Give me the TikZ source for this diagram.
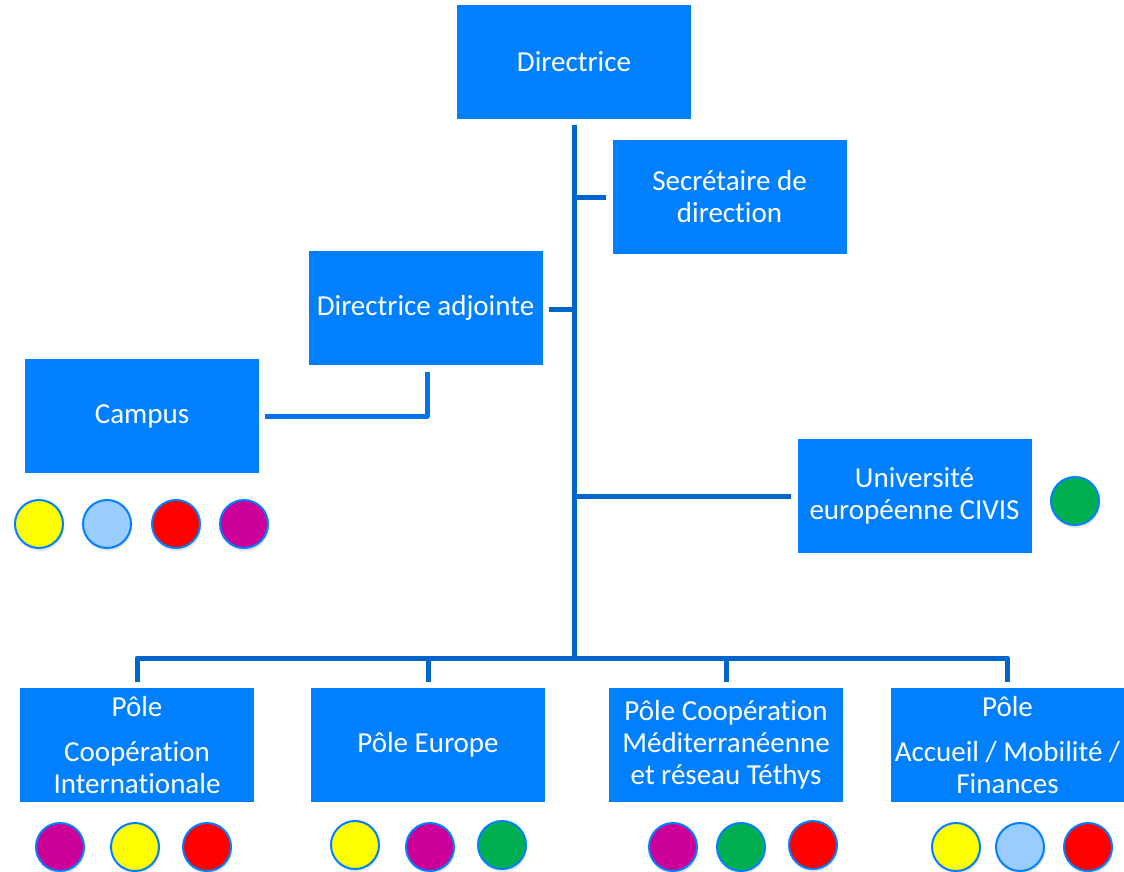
\documentclass[tikz,border=0pt]{standalone}
\usepackage{fontspec}
\setmainfont{Carlito}[Ligatures=NoCommon]
\usetikzlibrary{calc,shadows}

\definecolor{boxblue}{HTML}{0080FF}
\definecolor{lineblue}{HTML}{0066CC}
\definecolor{campusblue}{HTML}{0074E8}
\definecolor{jaune}{HTML}{FFFF00}
\definecolor{bleuclair}{HTML}{99CCFF}
\definecolor{rouge}{HTML}{FF0000}
\definecolor{magenta}{HTML}{CC0099}
\definecolor{vert}{HTML}{00B050}

\tikzset{
  poste/.style={fill=boxblue, text=white, align=center, inner sep=0pt,
    minimum width=234pt, minimum height=114pt,
    font=\fontsize{29}{32}\selectfont},
  lien/.style={draw=lineblue, line width=5pt},
  pastille/.style={circle, draw=boxblue, line width=2pt, minimum size=48pt,
    inner sep=0pt, drop shadow={opacity=0.2, shadow xshift=1pt, shadow yshift=-3pt}}
}

\begin{document}
\begin{tikzpicture}[x=1pt, y=-1pt]
  \useasboundingbox (0,0) rectangle (1124,872);

  %%%%% POSTES %%%%%
  \node[poste] (dir) at (574, 62) {Directrice};
  \node[poste] (sec) at (729.5, 197) {Secrétaire de\\direction};
  \node[poste] (adj) at (425.5, 308) {Directrice adjointe};
  \node[poste] (campus) at (142, 416) {Campus};
  \node[poste] (civis) at (914.5, 496) {Université\\européenne CIVIS};

  \node[poste] (poleci) at (137, 745) {Pôle\\[13pt]Coopération\\Internationale};
  \node[poste] (poleeu) at (428, 745) {Pôle Europe};
  \node[poste] (polemed) at (726, 745) {Pôle Coopération\\Méditerranéenne\\et réseau Téthys};
  \node[poste] (poleacc) at (1007.5, 745) {Pôle\\[13pt]Accueil / Mobilité /\\Finances};

  %%%%% LIENS %%%%%
  \coordinate (tronc) at ($(dir.south)+(0,6)$);
  \coordinate (bus) at (574, 658);
  \draw[lien] (tronc) -- (bus);
  \draw[lien] (tronc |- sec) -- ($(sec.west)+(-6,0)$);
  \draw[lien] ($(adj.east)+(6,1)$) -- (tronc |- {$(adj.east)+(0,1)$});
  \draw[lien] (tronc |- civis) -- ($(civis.west)+(-6,0)$);

  \draw[lien, line join=round] ($(poleci.north)+(0,-6)$) |- (bus) -| ($(poleacc.north)+(0,-6)$);
  \draw[lien] ($(poleeu.north)+(0,-6)$) -- (poleeu.north |- bus);
  \draw[lien] ($(polemed.north)+(0,-6)$) -- (polemed.north |- bus);

  \draw[draw=campusblue, line width=5pt, line join=round]
    ($(adj.south)+(1.5,7)$) |- ($(campus.east)+(6,0)$);

  %%%%% PASTILLES %%%%%
  \node[pastille, fill=jaune] (ca1) at (39, 524) {};
  \node[pastille, fill=bleuclair] (ca2) at (107, 524) {};
  \node[pastille, fill=rouge] (ca3) at (176, 524) {};
  \node[pastille, fill=magenta] (ca4) at (244, 524) {};

  \node[pastille, fill=vert] (cv1) at (1075, 501) {};

  \node[pastille, fill=magenta] (ci1) at (60, 847) {};
  \node[pastille, fill=jaune] (ci2) at (135, 847) {};
  \node[pastille, fill=rouge] (ci3) at (207, 847) {};

  \node[pastille, fill=jaune] (eu1) at (355, 845) {};
  \node[pastille, fill=magenta] (eu2) at (430, 847) {};
  \node[pastille, fill=vert] (eu3) at (502, 845) {};

  \node[pastille, fill=magenta] (me1) at (673, 847) {};
  \node[pastille, fill=vert] (me2) at (741, 847) {};
  \node[pastille, fill=rouge] (me3) at (813, 845) {};

  \node[pastille, fill=jaune] (ac1) at (956, 847) {};
  \node[pastille, fill=bleuclair] (ac2) at (1020, 847) {};
  \node[pastille, fill=rouge] (ac3) at (1088, 847) {};
\end{tikzpicture}
\end{document}
